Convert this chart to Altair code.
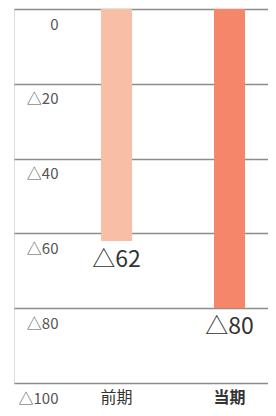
import altair as alt
import pandas as pd

categories = ["前期", "当期"]
values = [-62, -80]
colors = ["#F9BFA6", "#F5866A"]
y_ticks = [0, -20, -40, -60, -80, -100]

df = pd.DataFrame({"period": categories, "value": values})

FONT = "Noto Sans CJK JP"

x_enc = alt.X(
    "period:N",
    sort=categories,
    scale=alt.Scale(paddingInner=0.726, paddingOuter=0.487, align=0.791),
    axis=alt.Axis(
        title=None,
        ticks=False,
        domain=False,
        grid=False,
        labelAngle=0,
        labelFontSize=16,
        labelColor="#333333",
        labelBaseline="middle",
        labelPadding=14,
        labelFont=FONT,
        labelFontWeight={"condition": {"test": "datum.value === '当期'", "value": "bold"}, "value": "normal"},
    ),
)

y_enc = alt.Y(
    "value:Q",
    scale=alt.Scale(domain=[-100, 0], nice=False, zero=True),
    axis=alt.Axis(
        title=None,
        values=y_ticks,
        ticks=False,
        domain=False,
        grid=True,
        gridColor="#8c8c8c",
        gridWidth=1.5,
        labelAlign="right",
        labelBaseline="middle",
        labelPadding=-44,
        labelOffset=15,
        labelFontSize=15,
        labelColor="#555555",
        labelFont=FONT,
        labelExpr="datum.value < 0 ? '△' + abs(datum.value) : datum.value",
    ),
)

base = alt.Chart(df).transform_calculate(
    label="'△' + abs(datum.value)"
).encode(x=x_enc, y=y_enc)

bars = base.mark_bar(size=31).encode(
    color=alt.Color("period:N", scale=alt.Scale(domain=categories, range=colors), legend=None),
)

labels = base.mark_text(dy=19, fontSize=23, color="#333333", font=FONT, baseline="middle").encode(
    text="label:N",
)

chart = (bars + labels).properties(
    width=254,
    height=374,
    autosize=alt.AutoSizeParams(type="none"),
    padding={"left": 6, "top": 1, "right": 0, "bottom": 25},
).configure_view(strokeWidth=0, stroke="transparent", fill="white").configure_axis(
    domain=False, ticks=False, domainColor="transparent", domainOpacity=0, domainWidth=0
).configure_axisX(
    grid=False, gridOpacity=0
).configure_axisBand(
    grid=False
).configure(font=FONT)

chart.save("out.html", embed_options={"renderer": "svg", "actions": False})
